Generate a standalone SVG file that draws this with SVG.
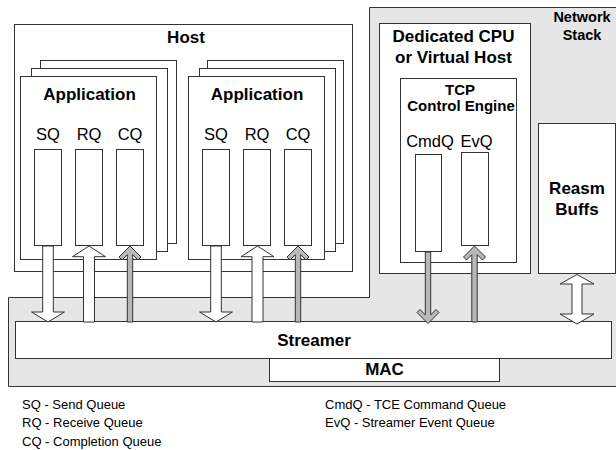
<svg xmlns="http://www.w3.org/2000/svg" width="616" height="450" viewBox="0 0 616 450">
  <style>
    .box { fill: #ffffff; stroke: #333333; stroke-width: 1; }
    .zone { fill: #e6e6e6; stroke: #333333; stroke-width: 1; }
    .title { font-family: "Liberation Sans", Arial, sans-serif; font-weight: bold; font-size: 17px; fill: #000000; text-anchor: middle; }
    .small-title { font-family: "Liberation Sans", Arial, sans-serif; font-weight: bold; font-size: 14.5px; fill: #000000; text-anchor: middle; }
    .engine-title { font-family: "Liberation Sans", Arial, sans-serif; font-weight: bold; font-size: 15px; fill: #000000; text-anchor: middle; }
    .qlabel { font-family: "Liberation Sans", Arial, sans-serif; font-size: 16.5px; fill: #000000; text-anchor: middle; }
    .legend { font-family: "Liberation Sans", Arial, sans-serif; font-size: 13px; fill: #000000; }
    .wide-arrow { fill: #ffffff; stroke: #333333; stroke-width: 1; stroke-linejoin: miter; }
    .thin-arrow { fill: #b8b8b8; stroke: #333333; stroke-width: 1; stroke-linejoin: miter; }
  </style>

  <!-- Network stack region (L-shaped grey area) -->
  <g id="network-stack">
    <path class="zone" d="M369.5,7.5 H620 V386.5 H8.5 V297.5 H369.5 Z"/>
    <text class="small-title" x="582" y="22">Network</text>
    <text class="small-title" x="582" y="40">Stack</text>
  </g>

  <!-- Host machine -->
  <g id="host">
    <rect class="box" x="14.5" y="24.5" width="338" height="247"/>
    <text class="title" x="186" y="43">Host</text>
  </g>

  <!-- First application stack -->
  <g id="app-1">
    <rect class="box" x="40.5" y="60.5" width="136" height="183"/>
    <rect class="box" x="31.5" y="68.5" width="136" height="183"/>
    <rect class="box" x="20.5" y="76.5" width="136" height="183"/>
    <text class="title" x="89.5" y="99.5">Application</text>
    <text class="qlabel" x="48" y="140">SQ</text>
    <text class="qlabel" x="89" y="140">RQ</text>
    <text class="qlabel" x="130" y="140">CQ</text>
    <rect class="box" x="34.5" y="149.5" width="27" height="96"/>
    <rect class="box" x="75.5" y="149.5" width="27" height="96"/>
    <rect class="box" x="116.5" y="149.5" width="27" height="96"/>
  </g>

  <!-- Second application stack -->
  <g id="app-2">
    <rect class="box" x="207.5" y="60.5" width="136" height="183"/>
    <rect class="box" x="199.5" y="68.5" width="136" height="183"/>
    <rect class="box" x="188.5" y="76.5" width="136" height="183"/>
    <text class="title" x="257" y="99.5">Application</text>
    <text class="qlabel" x="216" y="140">SQ</text>
    <text class="qlabel" x="257" y="140">RQ</text>
    <text class="qlabel" x="298" y="140">CQ</text>
    <rect class="box" x="202.5" y="149.5" width="27" height="96"/>
    <rect class="box" x="243.5" y="149.5" width="27" height="96"/>
    <rect class="box" x="284.5" y="149.5" width="27" height="96"/>
  </g>

  <!-- Dedicated CPU / virtual host -->
  <g id="dedicated-cpu">
    <rect class="box" x="379.5" y="23.5" width="151" height="250"/>
    <text class="title" x="453.5" y="42">Dedicated CPU</text>
    <text class="title" x="453.5" y="63">or Virtual Host</text>
  </g>

  <!-- TCP control engine with its queues -->
  <g id="tcp-control-engine">
    <rect class="box" x="400.5" y="78.5" width="116" height="184"/>
    <text class="engine-title" x="460" y="95">TCP</text>
    <text class="engine-title" x="461" y="111">Control Engine</text>
    <text class="qlabel" x="430" y="147">CmdQ</text>
    <text class="qlabel" x="476.5" y="147">EvQ</text>
    <rect class="box" x="415.5" y="154.5" width="26" height="97"/>
    <rect class="box" x="461.5" y="152.5" width="27" height="93"/>
  </g>

  <!-- Reassembly buffers -->
  <g id="reasm-buffs">
    <rect class="box" x="538.5" y="123.5" width="77" height="150"/>
    <text class="title" x="577" y="194">Reasm</text>
    <text class="title" x="577" y="215">Buffs</text>
  </g>

  <!-- Streamer -->
  <g id="streamer">
    <rect class="box" x="15.5" y="321.5" width="596" height="37"/>
    <text class="title" x="314" y="346">Streamer</text>
  </g>

  <!-- MAC -->
  <g id="mac">
    <rect class="box" x="269.5" y="358.5" width="230" height="23"/>
    <text class="title" x="384.5" y="374.5">MAC</text>
  </g>

  <!-- Data and control flows -->
  <g id="connectors">
    <!-- application 1 -->
    <path class="wide-arrow" d="M42.7,246 H53.3 V312 H64.5 L48,322 L31.5,312 H42.7 Z"/>
    <path class="wide-arrow" d="M89,246 L105.5,256.7 H94.5 V322 H83.5 V256.7 H72.5 Z"/>
    <path class="thin-arrow" d="M130,246 L141,257 L138,260 L132.7,254.7 V322 H127.3 V254.7 L122,260 L119,257 Z"/>
    <!-- application 2 -->
    <path class="wide-arrow" d="M210.7,246 H221.3 V312 H232.5 L216,322 L199.5,312 H210.7 Z"/>
    <path class="wide-arrow" d="M257.5,246 L274,256.7 H263 V322 H252 V256.7 H241 Z"/>
    <path class="thin-arrow" d="M298,246 L309,257 L306,260 L300.7,254.7 V322 H295.3 V254.7 L290,260 L287,257 Z"/>
    <!-- TCE command and event queues -->
    <path class="thin-arrow" d="M428,323.5 L439,312.5 L436,309.5 L430.7,314.8 V252 H425.3 V314.8 L420,309.5 L417,312.5 Z"/>
    <path class="thin-arrow" d="M474.5,246 L485.5,257 L482.5,260 L477.2,254.7 V322 H471.8 V254.7 L466.5,260 L463.5,257 Z"/>
    <!-- reassembly buffers <-> streamer -->
    <path class="wide-arrow" d="M577,274.5 L594,284 H582 V314 H594 L577,324 L560,314 H572 V284 H560 Z"/>
  </g>

  <!-- Abbreviations -->
  <g id="legend">
    <text class="legend" x="22" y="409">SQ - Send Queue</text>
    <text class="legend" x="22" y="427">RQ - Receive Queue</text>
    <text class="legend" x="22" y="446">CQ - Completion Queue</text>
    <text class="legend" x="325" y="409">CmdQ - TCE Command Queue</text>
    <text class="legend" x="325" y="427">EvQ - Streamer Event Queue</text>
  </g>
</svg>
